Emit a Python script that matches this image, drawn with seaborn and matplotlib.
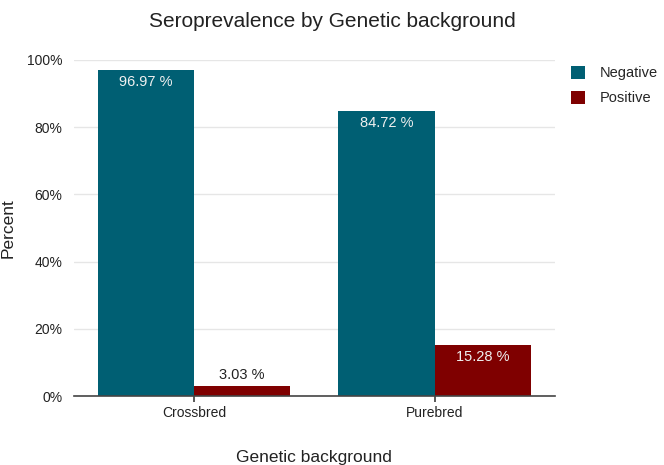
import numpy as np
import pandas as pd
import matplotlib
matplotlib.use("Agg")
import matplotlib.pyplot as plt
import seaborn as sns

# data
groups = ["Crossbred", "Purebred"]
status = ["Negative", "Positive"]
negative_pct = [96.97, 84.72]
positive_pct = [3.03, 15.28]

df = pd.DataFrame({
    "Genetic background": groups * 2,
    "Status": ["Negative"] * 2 + ["Positive"] * 2,
    "Percent": negative_pct + positive_pct,
})

sns.set_theme(style="white")
plt.rcParams["font.family"] = ["Liberation Sans", "DejaVu Sans"]

fig = plt.figure(figsize=(6.64, 4.65), dpi=100)
ax = fig.add_axes([0.111, 0.148, 0.725, 0.723])

palette = {"Negative": "#005f73", "Positive": "#7f0000"}
sns.barplot(data=df, x="Genetic background", y="Percent", hue="Status",
            hue_order=status, order=groups, palette=palette,
            width=0.8, saturation=1, linewidth=0, ax=ax, zorder=3)

ax.set_ylim(0, 100)
ax.set_xlim(-0.5, 1.5)
ax.set_yticks([0, 20, 40, 60, 80, 100])
ax.set_yticklabels([f"{v}%" for v in [0, 20, 40, 60, 80, 100]])
ax.grid(axis="y", color="#e6e6e6", linewidth=1, zorder=0)
ax.set_axisbelow(True)
for s in ["top", "right", "left"]:
    ax.spines[s].set_visible(False)
ax.spines["bottom"].set_color("#444444")
ax.spines["bottom"].set_linewidth(1.2)
ax.spines["bottom"].set_zorder(5)
ax.tick_params(axis="x", bottom=True, length=4, color="#444444", labelsize=10, pad=3)
ax.tick_params(axis="y", left=False, labelsize=10, pad=2)
for lab in ax.get_xticklabels() + ax.get_yticklabels():
    lab.set_color("#222222")

# value labels
for cont, name in zip(ax.containers, status):
    for bar in cont:
        h = bar.get_height()
        cx = bar.get_x() + bar.get_width() / 2
        txt = f"{h:.2f} %"
        if h > 8:
            ax.text(cx, h - 1.5, txt, ha="center", va="top", color="#f0f0f0", fontsize=10.5, zorder=6)
        else:
            ax.text(cx, h + 1.2, txt, ha="center", va="bottom", color="#222222", fontsize=10.5, zorder=6)

ax.set_xlabel("Genetic background", fontsize=12.5, labelpad=22, color="#222222")
ax.set_ylabel("Percent", fontsize=12.5, labelpad=8, color="#222222")
fig.suptitle("Seroprevalence by Genetic background", fontsize=15, x=0.5, y=0.975, color="#222222")

ax.legend(title=None, frameon=False, loc="upper left", bbox_to_anchor=(1.02, 1.0),
          fontsize=10.5, handlelength=1.0, handleheight=1.0, handletextpad=1.0,
          labelspacing=0.7, borderaxespad=0)

fig.savefig("out.png", dpi=100)
